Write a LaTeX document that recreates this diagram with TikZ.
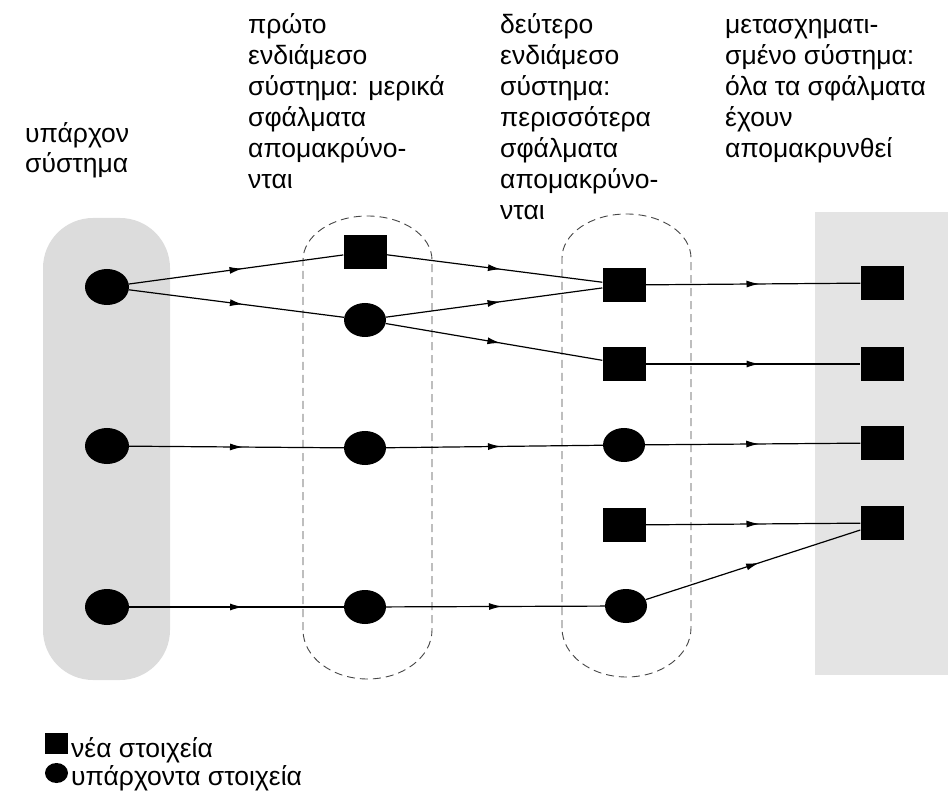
\documentclass[tikz,border=0pt]{standalone}
\usepackage{fontspec}
\setmainfont{Liberation Sans}
\usetikzlibrary{shapes.geometric,decorations.markings,arrows.meta}
\definecolor{shadeL}{RGB}{220,220,220}
\definecolor{shadeR}{RGB}{228,228,228}
\definecolor{dashcol}{RGB}{70,70,70}
\begin{document}
\begin{tikzpicture}[x=1pt,y=-1pt,
  ell/.style={ellipse,fill=black,minimum width=44pt,minimum height=36pt,inner sep=0pt},
  sq/.style={rectangle,fill=black,minimum width=43pt,minimum height=34pt,inner sep=0pt},
  flow/.style={line width=1.2pt,postaction={decorate},decoration={markings,mark=at position 0.5 with {\arrow[xshift=6.5pt]{Latex[length=13pt,width=7pt]}}}},
  grp/.style={line width=0.9pt, dash pattern=on 8pt off 5pt, dashcol},
  head/.style={anchor=base west, align=left, inner sep=0pt, font=\fontsize{26.5}{31}\selectfont},
  legtext/.style={anchor=base west, inner sep=0pt, font=\fontsize{26.5}{28}\selectfont},
]
\useasboundingbox (0,0) rectangle (948,799);
% shaded regions
\fill[shadeL, rounded corners=50pt] (43,218) rectangle (170,680);
\fill[shadeR] (815,212) rectangle (948,675);
% dashed groups
\draw[grp] (303,630) -- (303,260) .. controls (303,235.7) and (331.9,216) .. (367.5,216) .. controls (403.1,216) and (432,235.7) .. (432,260) -- (432,630) .. controls (432,657) and (403.1,679) .. (367.5,679) .. controls (331.9,679) and (303,657) .. (303,630);
\draw[grp] (562,628) -- (562,258) .. controls (562,233.7) and (590.9,214) .. (626.5,214) .. controls (662.1,214) and (691,233.7) .. (691,258) -- (691,628) .. controls (691,655) and (662.1,677) .. (626.5,677) .. controls (590.9,677) and (562,655) .. (562,628);
% headings (anchor = baseline of the last line)
\node[head, font=\fontsize{26.5}{30}\selectfont] (h1) at (25,173) {υπάρχον\\σύστημα};
\node[head] (h2) at (248,189) {πρώτο\\ενδιάμεσο\\σύστημα: μερικά\\σφάλματα\\απομακρύνο-\\νται};
\node[head] (h3) at (500,220) {δεύτερο\\ενδιάμεσο\\σύστημα:\\περισσότερα\\σφάλματα\\απομακρύνο-\\νται};
\node[head] (h4) at (725,158) {μετασχηματι-\\σμένο σύστημα:\\όλα τα σφάλματα\\έχουν\\απομακρυνθεί};
% column 1
\node[ell] (L1) at (107,287) {};
\node[ell] (L2) at (107,446) {};
\node[ell] (L3) at (107,607) {};
% column 2
\node[sq]  (S2a) at (365,252) {};
\node[ell,minimum width=42pt,minimum height=34pt] (E2a) at (365,320) {};
\node[ell,minimum width=42pt,minimum height=34pt] (E2b) at (365,448) {};
\node[ell,minimum width=42pt,minimum height=34pt] (E2c) at (365,607) {};
% column 3
\node[sq]  (S3a) at (624,285) {};
\node[sq]  (S3b) at (624,364) {};
\node[ell,minimum width=42pt,minimum height=34pt] (E3c) at (624,445) {};
\node[sq]  (S3d) at (624,525) {};
\node[ell,minimum width=42pt,minimum height=34pt] (E3e) at (626,606) {};
% column 4
\node[sq]  (S4a) at (882,283) {};
\node[sq]  (S4b) at (882,364) {};
\node[sq]  (S4c) at (882,443) {};
\node[sq]  (S4d) at (882,523) {};
% connectors
\draw[flow] (L1) -- (S2a);
\draw[flow] (L1) -- (E2a);
\draw[flow] (S2a) -- (S3a);
\draw[flow] (E2a) -- (S3a);
\draw[flow] (E2a) -- (S3b);
\draw[flow] (S3a) -- (S4a);
\draw[flow] (S3b) -- (S4b);
\draw[flow] (L2) -- (E2b);
\draw[flow] (E2b) -- (E3c);
\draw[flow] (E3c) -- (S4c);
\draw[flow] (S3d) -- (S4d);
\draw[flow] (L3) -- (E2c);
\draw[flow] (E2c) -- (E3e);
\draw[flow] (E3e) -- (S4d);
% legend
\node[sq,minimum width=23pt,minimum height=21pt] (kS) at (56.5,743.5) {};
\node[ell,minimum width=23pt,minimum height=20pt] (kE) at (56.5,773) {};
\node[legtext] (kSt) at (71,757) {νέα στοιχεία};
\node[legtext] (kEt) at (71,785) {υπάρχοντα στοιχεία};
\end{tikzpicture}
\end{document}
